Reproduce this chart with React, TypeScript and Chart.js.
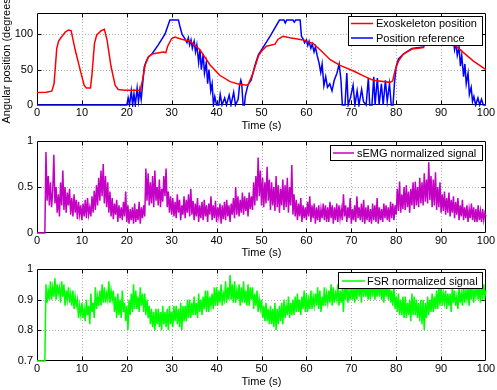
import React, { useEffect, useRef } from 'react';
import { Chart, registerables } from 'chart.js';

Chart.register(...registerables);

const FONT = '"Liberation Sans", Arial, Helvetica, sans-serif';

// ---------- Plot 1: exoskeleton position vs reference ----------
const exoT = [0, 2, 3.3, 3.8, 4.1, 4.4, 4.8, 5.2, 6.3, 7.0, 7.6, 8.5, 9.6, 10.5, 11, 11.9, 12.2, 12.8, 13.3, 14.3,
  15, 15.6, 16.5, 17.4, 18.1, 19.6, 23, 23.5, 24.1, 24.8, 25.6, 28.1, 28.7, 29.1, 30, 30.7, 32.2, 34.1, 36.3, 38.5,
  40.7, 43, 45.2, 47, 48.1, 49.3, 50, 51.1, 53, 53.7, 54.8, 56.3, 59.3, 61.5, 63.4, 65.3, 67.5, 70.5, 73.4, 74.9,
  78.6, 79.2, 79.8, 80.5, 81.6, 83.5, 86.1, 86.5, 88, 90, 92, 93.5, 97.2, 100];
const exoV = [17.5, 18, 19.5, 30, 55, 80, 90, 94, 103, 106, 105, 78, 50, 28, 24, 24, 40, 87, 99, 105,
  107, 92, 54, 28, 22, 21, 21, 35, 57, 68, 72, 75, 74, 83, 94, 96, 93, 90, 78, 57,
  42, 33, 29, 28, 45, 69, 76, 83, 86, 93, 97, 95, 92, 87, 76, 64, 56, 48, 39, 35,
  32, 34, 50, 62, 72, 79, 81, 90, 96, 97, 88, 82, 62, 50];

const refT = [0, 20,
  20.3, 20.6, 21, 21.3, 21.6, 21.9, 22.3, 22.6, 22.9, 23.2,
  23.5, 23.9, 24.3, 24.8,
  25.6, 27, 28.5, 29.6,
  31.5, 31.8, 32.3, 33,
  33.4, 33.7, 34, 34.3, 34.6, 35,
  35.3, 35.6, 36, 36.3, 36.6, 37,
  37.3, 37.7, 38, 38.3, 38.7, 39,
  39.3, 39.6, 40,
  40.5, 40.8, 41.2, 41.8, 42.2, 42.8, 43.2, 43.8, 44.2, 44.8,
  45.1, 45.4, 45.6, 45.9, 46.2, 46.4,
  47, 47.7, 48.5, 49.3, 50,
  52, 54,
  55, 55.3, 55.6,
  57, 57.3, 57.6, 58.6,
  58.9, 59.3, 59.6, 60,
  60.3, 60.6, 61, 61.3, 61.7, 62,
  62.4, 62.8, 63.2, 63.5, 63.9,
  64.3, 64.7, 65.2, 65.7, 66.2,
  66.8, 67.3, 67.7, 68,
  68.6, 69, 69.3, 69.8,
  70.4, 70.8, 71.3, 71.7, 72.3,
  72.7, 73.3, 73.8, 74.1, 74.6,
  75, 75.3, 75.8, 76.2, 76.7,
  77.1, 77.6, 78, 78.5, 78.9,
  79.3, 79.6, 80, 80.5,
  81.6, 83.5, 86,
  87, 88.5, 90, 91.5,
  92, 92.4, 92.7, 93, 93.3, 93.6,
  94, 94.3, 94.6, 95, 95.3, 95.6,
  96, 96.3, 96.7, 97, 97.3, 97.7,
  98.2, 98.6, 99, 99.4, 100];
const refV = [0, 0,
  10, 0, 20, 0, 16, 0, 24, 5, 21, 8,
  28, 54, 61, 68,
  72, 85, 100, 120,
  120, 112, 100, 93,
  88, 95, 85, 92, 80, 90,
  75, 85, 60, 78, 50, 72,
  45, 60, 30, 50, 20, 30,
  0, 12, 0,
  0, 15, 0, 10, 0, 14, 0, 18, 0, 8,
  27, 35, 30, 0, 0, 13,
  29, 35, 55, 71, 78,
  98, 120,
  120, 116, 120,
  120, 117, 120, 120,
  97, 93, 88, 92,
  84, 90, 80, 86, 75, 82,
  70, 60, 46, 58, 27,
  40, 25, 30, 20, 35,
  45, 58, 35, 0,
  0, 45, 0, 10,
  28, 0, 20, 0, 22,
  5, 0, 38, 0, 0,
  40, 0, 38, 0, 30,
  0, 35, 5, 30, 0,
  0, 30, 55, 65,
  72, 80, 82,
  95, 105, 110, 105,
  92, 86, 95, 78, 88, 70,
  82, 55, 70, 40, 58, 30,
  45, 15, 25, 5, 12, 0,
  10, 0, 8, 0, 0];

// ---------- Plot 2 & 3: samples every 0.25 s from t = 0 ----------
const sampleStep = 0.25;

const semgV = [
  0, 0, 0, 0,
  0, 0, 0, 0,
  .88, .35, .62, .30,
  .55, .28, .45, .85,
  .32, .50, .22, .42,
  .18, .55, .30, .68,
  .25, .50, .22, .44,
  .30, .48, .20, .38,
  .18, .42, .22, .36,
  .15, .34, .20, .30,
  .14, .32, .18, .36,
  .16, .38, .20, .28,
  .18, .40, .22, .46,
  .25, .52, .30, .60,
  .35, .68, .40, .75,
  .32, .62, .28, .55,
  .22, .45, .18, .38,
  .15, .32, .20, .36,
  .12, .30, .16, .28,
  .14, .34, .18, .45,
  .12, .30, .10, .26,
  .14, .28, .10, .32,
  .12, .26, .14, .34,
  .10, .28, .16, .30,
  .18, .70, .35, .65,
  .30, .55, .32, .62,
  .28, .68, .35, .50,
  .30, .58, .28, .48,
  .34, .62, .40, .70,
  .28, .45, .22, .40,
  .20, .38, .18, .34,
  .16, .42, .22, .36,
  .14, .30, .20, .40,
  .16, .36, .22, .42,
  .18, .48, .20, .35,
  .14, .32, .18, .38,
  .12, .30, .16, .34,
  .14, .36, .18, .30,
  .12, .32, .20, .40,
  .14, .30, .16, .35,
  .12, .28, .18, .32,
  .10, .30, .15, .34,
  .14, .36, .18, .30,
  .12, .32, .20, .38,
  .16, .50, .20, .40,
  .18, .36, .22, .44,
  .20, .40, .24, .38,
  .18, .44, .26, .40,
  .25, .55, .30, .62,
  .35, .82, .40, .68,
  .30, .60, .28, .55,
  .32, .72, .35, .58,
  .25, .55, .30, .50,
  .24, .62, .28, .52,
  .22, .48, .30, .58,
  .25, .52, .28, .60,
  .22, .50, .30, .74,
  .20, .42, .18, .36,
  .14, .32, .18, .38,
  .12, .30, .16, .28,
  .14, .34, .18, .40,
  .12, .30, .16, .32,
  .10, .28, .14, .30,
  .12, .26, .16, .32,
  .14, .30, .12, .28,
  .12, .34, .16, .30,
  .10, .28, .14, .32,
  .12, .30, .16, .26,
  .14, .42, .18, .30,
  .12, .28, .16, .38,
  .10, .26, .14, .30,
  .12, .40, .16, .28,
  .14, .32, .12, .36,
  .10, .28, .14, .30,
  .12, .26, .10, .32,
  .14, .30, .12, .38,
  .10, .28, .14, .26,
  .12, .32, .16, .30,
  .14, .28, .12, .34,
  .16, .32, .14, .30,
  .20, .48, .24, .56,
  .22, .42, .26, .50,
  .25, .52, .28, .45,
  .22, .48, .30, .55,
  .26, .56, .30, .50,
  .28, .60, .32, .55,
  .30, .65, .34, .58,
  .32, .77, .36, .62,
  .28, .58, .30, .66,
  .25, .50, .28, .55,
  .22, .42, .24, .45,
  .20, .38, .22, .44,
  .18, .36, .22, .40,
  .16, .34, .20, .38,
  .14, .30, .18, .36,
  .14, .28, .16, .30,
  .12, .26, .16, .32,
  .14, .28, .12, .26,
  .12, .30, .14, .24,
  .12, .26, .14, .22,
  .18];

const fsrV = [
  .7, .7, .7, .7,
  .7, .7, .7, .7,
  .95, .89, .93, .90,
  .96, .90, .94, .91,
  .97, .90, .95, .92,
  .94, .89, .96, .91,
  .95, .88, .93, .90,
  .94, .89, .92, .88,
  .93, .87, .91, .88,
  .90, .84, .88, .85,
  .89, .84, .87, .83,
  .90, .85, .88, .82,
  .92, .86, .89, .84,
  .94, .87, .91, .88,
  .93, .88, .95, .89,
  .94, .89, .92, .90,
  .96, .89, .93, .90,
  .93, .86, .91, .84,
  .92, .85, .90, .84,
  .93, .86, .89, .83,
  .88, .80, .90, .85,
  .92, .86, .95, .87,
  .93, .87, .91, .86,
  .94, .88, .92, .86,
  .92, .85, .90, .84,
  .88, .82, .87, .81,
  .86, .80, .87, .82,
  .87, .81, .86, .80,
  .88, .82, .86, .81,
  .87, .80, .88, .82,
  .86, .81, .88, .83,
  .88, .82, .87, .81,
  .89, .80, .88, .83,
  .88, .83, .90, .84,
  .90, .84, .89, .85,
  .91, .85, .89, .84,
  .92, .86, .90, .85,
  .91, .87, .93, .86,
  .93, .86, .91, .88,
  .92, .87, .94, .88,
  .94, .88, .93, .89,
  .95, .88, .92, .90,
  .96, .89, .94, .90,
  .98, .90, .95, .89,
  .96, .89, .93, .90,
  .95, .88, .94, .89,
  .96, .89, .93, .88,
  .95, .88, .94, .90,
  .94, .87, .92, .88,
  .93, .86, .90, .87,
  .90, .84, .88, .83,
  .89, .83, .87, .82,
  .88, .82, .87, .81,
  .89, .80, .87, .82,
  .88, .83, .89, .82,
  .90, .84, .88, .85,
  .91, .84, .89, .85,
  .90, .85, .91, .86,
  .92, .86, .90, .85,
  .91, .87, .93, .86,
  .92, .86, .90, .87,
  .93, .87, .91, .88,
  .92, .88, .94, .87,
  .93, .86, .91, .88,
  .94, .88, .92, .89,
  .93, .89, .95, .88,
  .94, .89, .92, .90,
  .95, .88, .93, .89,
  .94, .86, .95, .90,
  .96, .89, .93, .90,
  .95, .90, .94, .89,
  .96, .90, .97, .91,
  .95, .89, .98, .91,
  .96, .91, .94, .90,
  .95, .90, .96, .91,
  .97, .90, .94, .91,
  .96, .91, .95, .90,
  .95, .89, .96, .91,
  .94, .90, .95, .89,
  .93, .88, .94, .87,
  .91, .86, .92, .85,
  .90, .85, .91, .84,
  .91, .84, .89, .85,
  .90, .83, .92, .85,
  .91, .85, .90, .84,
  .89, .83, .90, .82,
  .90, .80, .89, .84,
  .91, .85, .90, .86,
  .92, .86, .91, .87,
  .93, .87, .94, .88,
  .94, .88, .92, .89,
  .93, .87, .92, .88,
  .92, .86, .94, .89,
  .93, .88, .91, .87,
  .94, .89, .92, .88,
  .95, .89, .93, .90,
  .94, .88, .95, .90,
  .96, .89, .93, .91,
  .95, .90, .94, .89,
  .96, .90, .95, .91,
  .93];

const xTickValues = [0, 10, 20, 30, 40, 50, 60, 70, 80, 90, 100];
const yTicks1 = [0, 50, 100];
const yTicks2 = [0, 0.5, 1];
const yTicks3 = [0.7, 0.8, 0.9, 1];

const legend1 = ['Exoskeleton position', 'Position reference'];
const legend2 = ['sEMG normalized signal'];
const legend3 = ['FSR normalized signal'];

const pairs = (t: number[], v: number[]) => t.map((x, i) => ({ x, y: v[i] }));
const sampled = (v: number[]) => v.map((y, i) => ({ x: i * sampleStep, y }));

const framePlugin = {
  id: 'frame',
  beforeDatasetsDraw(chart: any, _args: any, opts: any) {
    const { ctx, chartArea: a, scales } = chart;
    const xs = scales.x, ys = scales.y;
    ctx.save();
    ctx.lineWidth = 1;
    ctx.lineCap = 'butt';
    ctx.strokeStyle = '#b0b0b0';
    ctx.setLineDash([1, 2]);
    xs.ticks.forEach((t: any) => {
      const px = Math.round(xs.getPixelForValue(t.value)) + 0.5;
      if (px <= a.left + 1 || px >= a.right - 1) return;
      ctx.beginPath(); ctx.moveTo(px, a.top); ctx.lineTo(px, a.bottom); ctx.stroke();
    });
    ys.ticks.forEach((t: any) => {
      const py = Math.round(ys.getPixelForValue(t.value)) + 0.5;
      if (py <= a.top + 1 || py >= a.bottom - 1) return;
      ctx.beginPath(); ctx.moveTo(a.left, py); ctx.lineTo(a.right, py); ctx.stroke();
    });
    ctx.setLineDash([]);
    ctx.strokeStyle = '#000';
    const L = Math.round(a.left) + 0.5, R = Math.round(a.right) - 0.5;
    const T = Math.round(a.top) + 0.5, B = Math.round(a.bottom) - 0.5;
    ctx.beginPath();
    ctx.moveTo(L, T); ctx.lineTo(R, T); ctx.lineTo(R, B); ctx.lineTo(L, B); ctx.closePath();
    ctx.stroke();
    const tl = 4;
    xs.ticks.forEach((t: any) => {
      const px = Math.round(xs.getPixelForValue(t.value)) + 0.5;
      if (px <= L + 1 || px >= R - 1) return;
      ctx.beginPath();
      ctx.moveTo(px, B); ctx.lineTo(px, B - tl);
      ctx.moveTo(px, T); ctx.lineTo(px, T + tl);
      ctx.stroke();
    });
    ys.ticks.forEach((t: any) => {
      const py = Math.round(ys.getPixelForValue(t.value)) + 0.5;
      if (py <= T + 1 || py >= B - 1) return;
      ctx.beginPath();
      ctx.moveTo(L, py); ctx.lineTo(L + tl, py);
      ctx.moveTo(R, py); ctx.lineTo(R - tl, py);
      ctx.stroke();
    });
    if (opts.yTitle) {
      ctx.translate(6.7, (a.top + a.bottom) / 2);
      ctx.rotate(-Math.PI / 2);
      ctx.fillStyle = '#000';
      ctx.font = `11px ${FONT}`;
      ctx.textAlign = 'center';
      ctx.textBaseline = 'middle';
      ctx.fillText(opts.yTitle, 0, 0);
    }
    ctx.restore();
  },
  afterDatasetsDraw(chart: any, _args: any, opts: any) {
    const lg = opts.legend;
    if (!lg) return;
    const { ctx } = chart;
    ctx.save();
    const [bx, by, bw, bh] = lg.box;
    ctx.fillStyle = '#fff';
    ctx.fillRect(bx, by, bw, bh);
    ctx.strokeStyle = '#000';
    ctx.lineWidth = 1;
    ctx.strokeRect(bx, by, bw, bh);
    ctx.font = `11px ${FONT}`;
    ctx.textAlign = 'left';
    ctx.textBaseline = 'middle';
    chart.data.datasets.forEach((ds: any, i: number) => {
      const y = lg.rows[i];
      ctx.strokeStyle = ds.borderColor;
      ctx.lineWidth = 1.5;
      ctx.beginPath(); ctx.moveTo(lg.line[0], y); ctx.lineTo(lg.line[1], y); ctx.stroke();
      ctx.fillStyle = '#000';
      ctx.fillText(ds.label, lg.textX, y + 0.5);
    });
    ctx.restore();
  },
};

function makeConfig(datasets: any[], yMin: number, yMax: number, yTicks: number[], canvasH: number, frame: any) {
  const tickFont = { family: FONT, size: 11 };
  return {
    type: 'line',
    data: { datasets },
    plugins: [framePlugin],
    options: {
      animation: false,
      responsive: false,
      events: [],
      layout: { padding: { left: 0, right: 11, top: 13, bottom: 0 } },
      elements: { point: { radius: 0, hoverRadius: 0, borderWidth: 0 }, line: { tension: 0 } },
      plugins: { legend: { display: false }, tooltip: { enabled: false }, frame },
      scales: {
        x: {
          type: 'linear', min: 0, max: 100,
          afterBuildTicks: (s: any) => { s.ticks = xTickValues.map((value) => ({ value })); },
          afterFit: (s: any) => { s.height = canvasH - 105; },
          ticks: { font: tickFont, color: '#000', padding: 1, maxRotation: 0, autoSkip: false, callback: (v: any) => String(v) },
          grid: { display: false, drawTicks: false },
          border: { display: false },
          title: { display: true, text: 'Time (s)', color: '#000', font: tickFont, padding: { top: 0, bottom: 0 } },
        },
        y: {
          type: 'linear', min: yMin, max: yMax,
          afterBuildTicks: (s: any) => { s.ticks = yTicks.map((value) => ({ value })); },
          afterFit: (s: any) => { s.width = 37; },
          ticks: { font: tickFont, color: '#000', padding: 4, autoSkip: false, callback: (v: any) => String(Math.round(v * 100) / 100) },
          grid: { display: false, drawTicks: false },
          border: { display: false },
        },
      },
    },
  } as any;
}

const lineDs = (label: string, data: any[], color: string, width: number) => ({
  label, data, borderColor: color, backgroundColor: color, borderWidth: width,
  pointRadius: 0, fill: false, clip: 2, parsing: false, normalized: true,
});

const H1 = 133, H2 = 132, H3 = 133;

export default function App() {
  const c1 = useRef<HTMLCanvasElement>(null);
  const c2 = useRef<HTMLCanvasElement>(null);
  const c3 = useRef<HTMLCanvasElement>(null);

  useEffect(() => {
    const charts: Chart[] = [];
    charts.push(new Chart(c1.current as HTMLCanvasElement, makeConfig([
      lineDs(legend1[0], pairs(exoT, exoV), '#ff0000', 1.5),
      lineDs(legend1[1], pairs(refT, refV), '#0000ff', 1.5),
    ], 0, 130, yTicks1, H1, {
      yTitle: 'Angular position (degrees)',
      legend: { box: [348.5, 16.5, 134, 29], line: [351, 373], textX: 376, rows: [23.5, 38] },
    })));
    charts.push(new Chart(c2.current as HTMLCanvasElement, makeConfig([
      lineDs(legend2[0], sampled(semgV), '#c400c4', 1.5),
    ], 0, 1, yTicks2, H2, {
      legend: { box: [330.5, 17.5, 152, 15], line: [333, 354], textX: 357, rows: [25] },
    })));
    charts.push(new Chart(c3.current as HTMLCanvasElement, makeConfig([
      lineDs(legend3[0], sampled(fsrV), '#00ff00', 1.5),
    ], 0.7, 1, yTicks3, H3, {
      legend: { box: [338.5, 16.5, 144, 16], line: [342, 365], textX: 367, rows: [25] },
    })));
    return () => charts.forEach((c) => c.destroy());
  }, []);

  const st = (top: number, h: number): React.CSSProperties => ({ position: 'absolute', left: 0, top, width: 497, height: h });
  return (
    <div style={{ position: 'absolute', left: 0, top: 0, width: 497, height: 390, background: '#fff', overflow: 'hidden' }}>
      <canvas ref={c1} width={497} height={H1} style={st(0, H1)} />
      <canvas ref={c2} width={497} height={H2} style={st(128, H2)} />
      <canvas ref={c3} width={497} height={H3} style={st(256, H3)} />
    </div>
  );
}
